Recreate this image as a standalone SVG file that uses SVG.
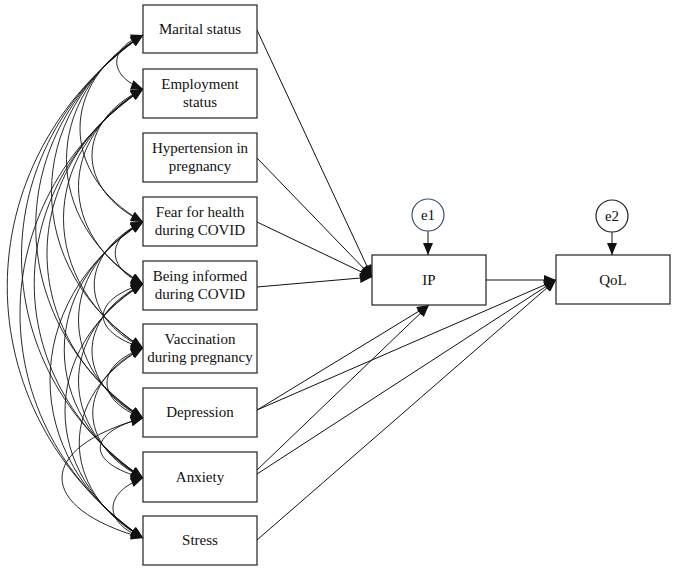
<svg xmlns="http://www.w3.org/2000/svg" width="676" height="572" viewBox="0 0 676 572">
<style>
.box{fill:#fff;stroke:#222;stroke-width:1.2}
.t{font-family:"Liberation Serif","Times New Roman",serif;font-size:15px;fill:#111;text-anchor:middle}
.c{fill:none;stroke:#111;stroke-width:0.9;marker-end:url(#ah);marker-start:url(#as)}
.p{fill:none;stroke:#111;stroke-width:1;marker-end:url(#ah)}
</style>
<defs>
<marker id="ah" viewBox="0 0 12 10" refX="12" refY="5" markerWidth="13" markerHeight="10" markerUnits="userSpaceOnUse" orient="auto"><path d="M0,0 L12,5 L0,10 z" fill="#111"/></marker>
<marker id="as" viewBox="0 0 12 10" refX="0" refY="5" markerWidth="13" markerHeight="10" markerUnits="userSpaceOnUse" orient="auto"><path d="M12,0 L0,5 L12,10 z" fill="#111"/></marker>
</defs>
<rect width="676" height="572" fill="#fff"/>
<g id="connectors">
<path class="c" d="M143,35 C108,48 108,76 143,89"/>
<path class="c" d="M143,35 C59,82 59,175 143,222"/>
<path class="c" d="M143,35 C41,97 41,222 143,284"/>
<path class="c" d="M143,35 C21,113 21,270 143,348"/>
<path class="c" d="M143,35 C0,131 0,322 143,418"/>
<path class="c" d="M143,35 C-19,146 -19,367 143,478"/>
<path class="c" d="M143,35 C-38,161 -38,412 143,538"/>
<path class="c" d="M143,89 C75,122 75,189 143,222"/>
<path class="c" d="M143,89 C57,138 57,235 143,284"/>
<path class="c" d="M143,89 C37,154 37,283 143,348"/>
<path class="c" d="M143,89 C15,171 15,336 143,418"/>
<path class="c" d="M143,89 C-2,186 -2,381 143,478"/>
<path class="c" d="M143,89 C-21,201 -21,426 143,538"/>
<path class="c" d="M143,222 C106,238 106,268 143,284"/>
<path class="c" d="M143,222 C78,254 78,316 143,348"/>
<path class="c" d="M143,222 C57,271 57,369 143,418"/>
<path class="c" d="M143,222 C38,286 38,414 143,478"/>
<path class="c" d="M143,222 C19,301 19,459 143,538"/>
<path class="c" d="M143,284 C90,300 90,332 143,348"/>
<path class="c" d="M143,284 C75,318 75,384 143,418"/>
<path class="c" d="M143,284 C57,333 57,429 143,478"/>
<path class="c" d="M143,284 C39,348 39,474 143,538"/>
<path class="c" d="M143,348 C95,366 95,400 143,418"/>
<path class="c" d="M143,348 C76,381 76,445 143,478"/>
<path class="c" d="M143,348 C58,396 58,490 143,538"/>
<path class="c" d="M143,418 C86,433 86,463 143,478"/>
<path class="c" d="M143,418 C35,448 35,508 143,538"/>
<path class="c" d="M143,478 C103,493 103,523 143,538"/>
<path class="p" d="M257,30 L372,277"/>
<path class="p" d="M257,158 L372,277"/>
<path class="p" d="M257,222 L372,277"/>
<path class="p" d="M257,287 L372,277"/>
<path class="p" d="M257,410 L429,305"/>
<path class="p" d="M257,470 L429,305"/>
<path class="p" d="M257,410 L556,280"/>
<path class="p" d="M257,474 L556,280"/>
<path class="p" d="M257,540 L556,280"/>
<path class="p" d="M486,280 L556,280"/>
<path class="p" d="M428,231 L428,255"/>
<path class="p" d="M612,232 L612,255"/>
</g>
<g id="marital"><rect class="box" x="143" y="5" width="114" height="48"/><text class="t" x="200" y="34">Marital status</text></g>
<g id="employment"><rect class="box" x="143" y="69" width="114" height="49"/><text class="t" x="200" y="89">Employment</text><text class="t" x="200" y="107">status</text></g>
<g id="hypertension"><rect class="box" x="143" y="133" width="114" height="49"/><text class="t" x="200" y="153">Hypertension in</text><text class="t" x="200" y="171">pregnancy</text></g>
<g id="fear"><rect class="box" x="143" y="197" width="114" height="49"/><text class="t" x="200" y="217">Fear for health</text><text class="t" x="200" y="235">during COVID</text></g>
<g id="informed"><rect class="box" x="143" y="261" width="114" height="49"/><text class="t" x="200" y="281">Being informed</text><text class="t" x="200" y="299">during COVID</text></g>
<g id="vaccination"><rect class="box" x="143" y="324" width="114" height="49"/><text class="t" x="200" y="344">Vaccination</text><text class="t" x="200" y="362">during pregnancy</text></g>
<g id="depression"><rect class="box" x="143" y="388" width="114" height="49"/><text class="t" x="200" y="417">Depression</text></g>
<g id="anxiety"><rect class="box" x="143" y="452" width="114" height="50"/><text class="t" x="200" y="482">Anxiety</text></g>
<g id="stress"><rect class="box" x="143" y="516" width="114" height="49"/><text class="t" x="200" y="545">Stress</text></g>
<g id="ip"><rect class="box" x="372" y="255" width="114" height="50"/><text class="t" x="429" y="285">IP</text></g>
<g id="qol"><rect class="box" x="556" y="255" width="114" height="49"/><text class="t" x="613" y="285">QoL</text></g>
<g id="e1"><circle cx="428" cy="215" r="16" fill="#fff" stroke="#3b4f73" stroke-width="1.2"/><text class="t" x="428" y="220">e1</text></g>
<g id="e2"><circle cx="612" cy="216" r="16" fill="#fff" stroke="#222" stroke-width="1.2"/><text class="t" x="612" y="221">e2</text></g>
</svg>
